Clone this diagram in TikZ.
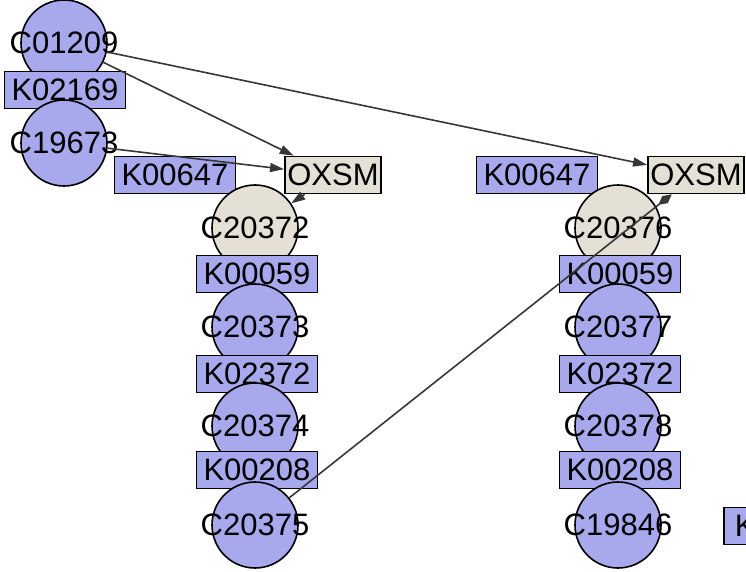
\documentclass[tikz,border=0pt]{standalone}
\usepackage{fontspec}
\setmainfont{Liberation Sans}
\usetikzlibrary{arrows.meta}
\definecolor{cpdfill}{RGB}{168,168,236}
\definecolor{enzfill}{RGB}{228,224,214}
\definecolor{edgecol}{RGB}{55,55,55}

\tikzset{
  cpd/.style={circle, draw=black, fill=cpdfill, minimum size=86pt, inner sep=0pt, line width=1.6pt},
  cpdlabel/.style={font=\fontsize{31}{36}\selectfont},
  ko/.style={rectangle, draw=black, fill=cpdfill, minimum height=37pt, inner xsep=7pt, inner ysep=0pt, line width=1.6pt, font=\fontsize{31}{36}\selectfont},
  enz/.style={ko, fill=enzfill, inner xsep=2.5pt},
  link/.style={draw=edgecol, line width=1.6pt, -{Triangle[length=14pt,width=9pt]}},
  inhib/.style={draw=edgecol, line width=1.6pt, -{Diamond[length=17pt,width=9pt]}}
}

\begin{document}
\begin{tikzpicture}[x=1pt, y=-1pt]
\useasboundingbox (0,0) rectangle (746,572);

\node[cpd, label={[cpdlabel]center:C01209}] (c01209) at (64,43) {};
\node[ko] (k02169) at (65,90) {K02169};
\node[cpd, label={[cpdlabel]center:C19673}] (c19673) at (64,143) {};

\node[ko] (k00647a) at (175,175) {K00647};
\node[enz] (oxsmA) at (333,175) {OXSM};
\node[cpd, fill=enzfill, label={[cpdlabel]center:C20372}] (c20372) at (255,228) {};
\node[ko] (k00059a) at (257,274) {K00059};
\node[cpd, label={[cpdlabel]center:C20373}] (c20373) at (255,327) {};
\node[ko] (k02372a) at (257,374) {K02372};
\node[cpd, label={[cpdlabel]center:C20374}] (c20374) at (255,426) {};
\node[ko] (k00208a) at (257,470) {K00208};
\node[cpd, label={[cpdlabel]center:C20375}] (c20375) at (255,525) {};

\node[ko] (k00647b) at (537,175) {K00647};
\node[enz] (oxsmB) at (696,175) {OXSM};
\node[cpd, fill=enzfill, label={[cpdlabel]center:C20376}] (c20376) at (618,228) {};
\node[ko] (k00059b) at (620,274) {K00059};
\node[cpd, label={[cpdlabel]center:C20377}] (c20377) at (618,327) {};
\node[ko] (k02372b) at (620,374) {K02372};
\node[cpd, label={[cpdlabel]center:C20378}] (c20378) at (618,426) {};
\node[ko] (k00208b) at (620,470) {K00208};
\node[cpd, label={[cpdlabel]center:C19846}] (c19846) at (618,525) {};

\node[ko, anchor=west, text width=100pt, align=left, inner xsep=11pt] (kedge) at (723,526) {K};

\draw[link] (c01209) -- (oxsmA);
\draw[link] (c01209) -- (oxsmB);
\draw[link] (c19673) -- (oxsmA);
\draw[link] (oxsmA) -- (c20372);
\draw[inhib] (c20375) -- (oxsmB);
\end{tikzpicture}
\end{document}
